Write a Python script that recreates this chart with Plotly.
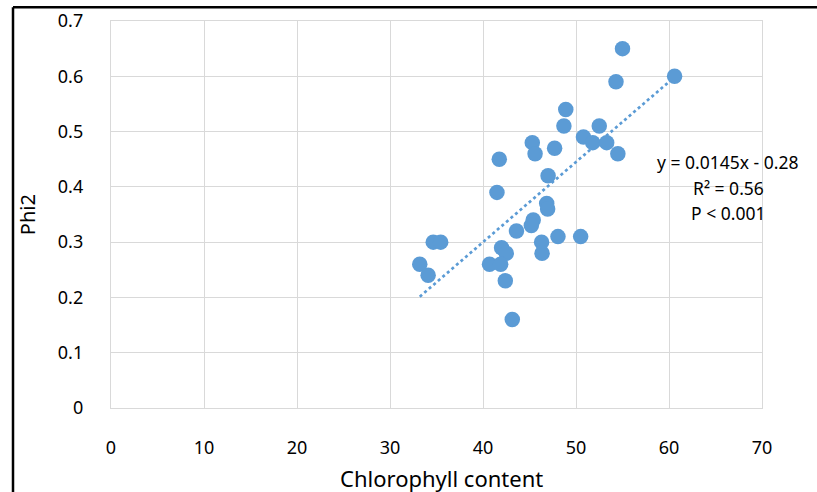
import plotly.graph_objects as go

chlorophyll = [55.0, 60.6, 54.3, 48.9, 48.7, 52.5, 45.3, 45.6, 50.8, 51.8,
               53.3, 47.7, 54.5, 41.75, 47.0, 41.5, 46.85, 46.95, 45.4, 45.2,
               43.6, 34.65, 35.45, 46.3, 48.06, 50.5, 42.0, 42.5, 46.35, 33.2,
               34.1, 40.7, 41.9, 42.4, 43.15]
phi2 = [0.65, 0.60, 0.59, 0.54, 0.51, 0.51, 0.48, 0.46, 0.49, 0.48,
        0.48, 0.47, 0.46, 0.45, 0.42, 0.39, 0.37, 0.36, 0.34, 0.33,
        0.32, 0.30, 0.30, 0.30, 0.31, 0.31, 0.29, 0.28, 0.28, 0.26,
        0.24, 0.26, 0.26, 0.23, 0.16]

slope = 0.0145
intercept = -0.28
trend_x = [min(chlorophyll), max(chlorophyll)]
trend_y = [slope * v + intercept for v in trend_x]

x_ticks = [0, 10, 20, 30, 40, 50, 60, 70]
y_ticks = [0, 0.1, 0.2, 0.3, 0.4, 0.5, 0.6, 0.7]
y_tick_text = ["0", "0.1", "0.2", "0.3", "0.4", "0.5", "0.6", "0.7"]

x_title = "Chlorophyll content"
y_title = "Phi2"
stats_lines = ["y = 0.0145x - 0.28", "R² = 0.56", "P < 0.001"]

blue = "#5B9BD5"
grid = "#D9D9D9"
font = "Noto Sans"

L, T = 111, 20.7      # plot area left/top in px
PW, PH = 651, 387.3   # plot area size in px


def px_x(px):
    return (px - L) / PW


def px_y(py):
    return (T + PH - py) / PH


fig = go.Figure()
fig.add_trace(go.Scatter(x=trend_x, y=trend_y, mode="lines",
                         line=dict(color=blue, width=2.7, dash="dot"),
                         hoverinfo="skip", showlegend=False))
fig.add_trace(go.Scatter(x=chlorophyll, y=phi2, mode="markers",
                         marker=dict(color=blue, size=15.5, line=dict(width=0)),
                         showlegend=False))

ann = []
for i, t in enumerate(stats_lines):
    ann.append(dict(xref="paper", yref="paper", x=px_x(728),
                    y=px_y(161.7 + 25.7 * i), text=t, showarrow=False,
                    xanchor="center", yanchor="middle",
                    font=dict(size=17.5, family=font)))
ann.append(dict(xref="paper", yref="paper", x=px_x(442), y=px_y(478),
                text=x_title, showarrow=False, xanchor="center", yanchor="middle",
                font=dict(size=22, family=font)))
ann.append(dict(xref="paper", yref="paper", x=px_x(27), y=px_y(215),
                text=y_title, showarrow=False, textangle=-90,
                xanchor="center", yanchor="middle",
                font=dict(size=20, family=font)))

fig.update_layout(
    width=817, height=492,
    margin=dict(l=L, r=817 - L - PW, t=T, b=492 - T - PH),
    paper_bgcolor="white", plot_bgcolor="white",
    font=dict(family=font, size=18, color="#000000"),
    xaxis=dict(range=[0, 70], tickvals=x_ticks, showgrid=True, gridcolor=grid,
               gridwidth=1.3, showline=True, linecolor=grid, linewidth=1.3,
               mirror=True, zeroline=False, ticks="", ticklabelstandoff=23,
               tickfont=dict(size=18), automargin=False),
    yaxis=dict(range=[0, 0.7], tickvals=y_ticks, ticktext=y_tick_text,
               showgrid=True, gridcolor=grid, gridwidth=1.3, showline=True,
               linecolor=grid, linewidth=1.3, mirror=True, zeroline=False,
               ticks="", ticklabelstandoff=23, tickfont=dict(size=18),
               automargin=False),
    annotations=ann,
    shapes=[
        dict(type="line", xref="paper", yref="paper",
             x0=px_x(13), x1=1.2, y0=px_y(7), y1=px_y(7),
             line=dict(color="black", width=2.5)),
        dict(type="line", xref="paper", yref="paper",
             x0=px_x(13), x1=px_x(13), y0=-0.3, y1=px_y(7),
             line=dict(color="black", width=2.5)),
    ],
)

fig.write_html("out.html", config={"displayModeBar": False},
               post_script="document.body.style.margin='0';document.body.style.overflow='hidden';")
